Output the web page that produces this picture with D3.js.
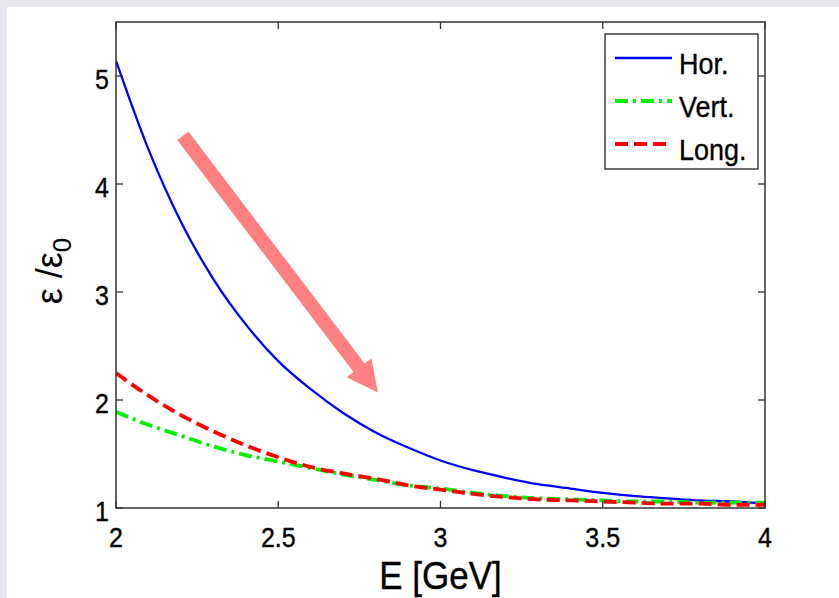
<!DOCTYPE html>
<html><head><meta charset="utf-8">
<script src="https://cdn.jsdelivr.net/npm/d3@7"></script>
<style>
html,body{margin:0;padding:0;background:#e9e7ee;}
svg{display:block;}
</style></head>
<body>
<svg id="chart" width="839" height="598"></svg>
<script>
// ---- data ----
const energy = [2.0,2.1,2.2,2.3,2.4,2.5,2.6,2.7,2.8,2.9,3.0,3.1,3.2,3.3,3.4,3.5,3.6,3.7,3.8,3.9,4.0];
const horValues  = [5.14,4.32,3.65,3.12,2.70,2.36,2.10,1.88,1.70,1.56,1.44,1.35,1.28,1.22,1.18,1.14,1.11,1.09,1.07,1.06,1.04];
const vertValues = [1.89,1.77,1.67,1.57,1.49,1.43,1.37,1.31,1.26,1.21,1.18,1.14,1.11,1.09,1.08,1.07,1.06,1.06,1.05,1.05,1.05];
const longValues = [2.25,2.04,1.86,1.71,1.58,1.47,1.38,1.32,1.27,1.21,1.17,1.13,1.10,1.08,1.07,1.06,1.05,1.04,1.04,1.03,1.03];
const seriesNames = ["Hor.","Vert.","Long."];
const xTicks = [2,2.5,3,3.5,4];
const xTickLabels = ["2","2.5","3","3.5","4"];
const yTicks = [1,2,3,4,5];
const yTickLabels = ["1","2","3","4","5"];
// annotation arrow (data coords): start, tip
const arrowE = [2.206, 2.807];
const arrowV = [4.446, 2.07];

// ---- layout ----
const svg = d3.select("#chart");
svg.append("rect").attr("x",7).attr("y",7).attr("width",832).attr("height",591).attr("fill","#fff");

const L=116, R=765, T=22, B=508;
const x = d3.scaleLinear().domain([2,4]).range([L,R]);
const y = d3.scaleLinear().domain([1,5.5]).range([B,T]);
const FONT = "Liberation Sans, Arial, Helvetica, sans-serif";

const styles = [
  {color:"#0000ff", width:2.3, dash:null, vals:horValues},
  {color:"#00f000", width:3.8, dash:"13,5,3,5", vals:vertValues},
  {color:"#ff0000", width:3.8, dash:"13,6", vals:longValues}
];

const line = d3.line().curve(d3.curveMonotoneX);
const g = svg.append("g");
g.append("defs").append("clipPath").attr("id","clip")
  .append("rect").attr("x",L).attr("y",T).attr("width",R-L).attr("height",B-T);

styles.forEach(s=>{
  g.append("path")
    .attr("clip-path","url(#clip)")
    .attr("d", line(energy.map((e,i)=>[x(e), y(s.vals[i])])))
    .attr("fill","none").attr("stroke",s.color).attr("stroke-width",s.width)
    .attr("stroke-dasharray",s.dash);
});

// axes box
const axisColor="#333";
g.append("rect").attr("x",L).attr("y",T).attr("width",R-L).attr("height",B-T)
  .attr("fill","none").attr("stroke",axisColor).attr("stroke-width",1.5);

const tl = 7;
function label(xp, yp, txt, size, anchor, sy){
  return g.append("text").attr("x",xp).attr("y",yp)
    .attr("text-anchor",anchor).attr("font-family",FONT)
    .attr("font-size",size).attr("fill","#000")
    .attr("stroke","#000").attr("stroke-width",0.35)
    .attr("transform",`translate(0,${yp}) scale(1,${sy}) translate(0,${-yp})`)
    .text(txt);
}
xTicks.forEach((t,i)=>{
  g.append("line").attr("x1",x(t)).attr("x2",x(t)).attr("y1",B).attr("y2",B-tl).attr("stroke",axisColor).attr("stroke-width",1.3);
  g.append("line").attr("x1",x(t)).attr("x2",x(t)).attr("y1",T).attr("y2",T+tl).attr("stroke",axisColor).attr("stroke-width",1.3);
  label(x(t), 547, xTickLabels[i], 25, "middle", 1.08);
});
yTicks.forEach((t,i)=>{
  g.append("line").attr("x1",L).attr("x2",L+tl).attr("y1",y(t)).attr("y2",y(t)).attr("stroke",axisColor).attr("stroke-width",1.3);
  g.append("line").attr("x1",R).attr("x2",R-tl).attr("y1",y(t)).attr("y2",y(t)).attr("stroke",axisColor).attr("stroke-width",1.3);
  label(109, y(t)+13, yTickLabels[i], 25, "end", 1.08);
});

// axis labels
label((L+R)/2, 589, "E [GeV]", 35, "middle", 1.1);

const yl = g.append("text")
  .attr("transform","translate(62,271) rotate(-90)")
  .attr("text-anchor","middle").attr("font-family",FONT)
  .attr("font-size",36).attr("fill","#000");
yl.append("tspan").text("ε /ε");
yl.append("tspan").attr("dy",9).attr("font-size",26).text("0");

// arrow annotation
(function(){
  const x0=x(arrowE[0]), y0=y(arrowV[0]), x1=x(arrowE[1]), y1=y(arrowV[1]);
  const dx=x1-x0, dy=y1-y0, len=Math.hypot(dx,dy);
  const ux=dx/len, uy=dy/len, px=-uy, py=ux;
  const sw=7, hl=31, hw=15.5;
  const bx=x1-ux*hl, by=y1-uy*hl;
  const pts=[
    [x0+px*sw,y0+py*sw],[bx+px*sw,by+py*sw],[bx+px*hw,by+py*hw],[x1,y1],
    [bx-px*hw,by-py*hw],[bx-px*sw,by-py*sw],[x0-px*sw,y0-py*sw]
  ];
  g.append("polygon").attr("points",pts.map(p=>p.join(",")).join(" ")).attr("fill","#ff8080");
})();

// legend
const lg = g.append("g");
lg.append("rect").attr("x",605).attr("y",34).attr("width",153).attr("height",135)
  .attr("fill","#fff").attr("stroke","#222").attr("stroke-width",1.3);
styles.forEach((s,i)=>{
  const ly = 58 + i*43;
  lg.append("line").attr("x1",615).attr("x2",672).attr("y1",ly).attr("y2",ly)
    .attr("stroke",s.color).attr("stroke-width",s.width).attr("stroke-dasharray",s.dash);
  const by = ly+16;
  lg.append("text").attr("x",679).attr("y",by)
    .attr("font-family",FONT).attr("font-size",27).attr("fill","#000")
    .attr("stroke","#000").attr("stroke-width",0.3)
    .attr("transform",`translate(0,${by}) scale(1,1.08) translate(0,${-by})`)
    .text(seriesNames[i]);
});
</script>
</body></html>
